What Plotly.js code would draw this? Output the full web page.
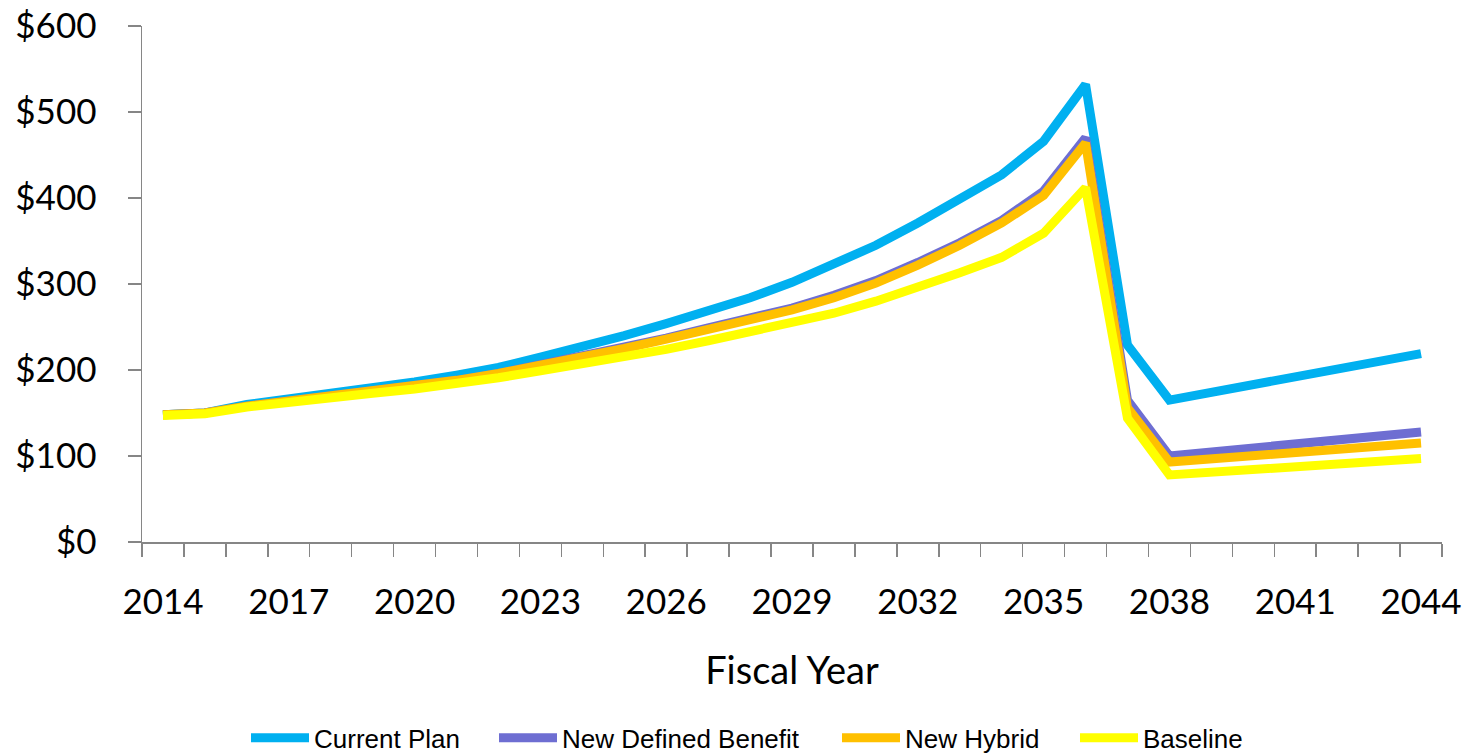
<!DOCTYPE html>
<html>
<head>
<meta charset="utf-8">
<script src="https://cdn.plot.ly/plotly-3.0.1.min.js"></script>
<style>html,body{margin:0;padding:0;background:#fff;}#chart{width:1472px;height:753px;}</style>
</head>
<body>
<div id="chart"></div>
<script>
// Fiscal years with data
const years = [2014,2015,2016,2017,2018,2019,2020,2021,2022,2023,2024,2025,2026,2027,2028,2029,2030,2031,2032,2033,2034,2035,2036,2037,2038,2044];
const currentPlan = [148,150,160,166,172,179,186,194,203,215,227,240,254,268,284,302,323,345,371,398,427,466,532,229,165,219];
const newDefinedBenefit = [148,150,158,164,169,175,181,188,196,206,216,226,237,249,260,272,287,304,325,348,374,408,470,165,100,128];
const newHybrid = [148,150,158,164,169,175,181,188,196,205,215,225,236,247,258,270,284,301,322,345,371,403,464,156,93,115];
const baseline = [147,149,157,163,168,173,178,184,191,199,207,215,224,234,244,255,266,280,296,313,331,359,412,144,78,97];
const tickYears = [2014,2017,2020,2023,2026,2029,2032,2035,2038,2041,2044];
const seriesNames = ["Current Plan","New Defined Benefit","New Hybrid","Baseline"];
const seriesColors = ["#00B0F0","#6E6ED2","#FFC000","#FFFF00"];
const legendIds = ["legend","legend2","legend3","legend4"];

const seriesData = [currentPlan, newDefinedBenefit, newHybrid, baseline];
const traces = seriesData.map((ys, i) => ({
  type: "scatter",
  mode: "lines",
  x: years,
  y: ys,
  name: seriesNames[i],
  legend: legendIds[i],
  line: {color: seriesColors[i], width: 9}
}));

const axisColor = "#868686";
const legendFont = {family: "Liberation Sans, Arial, sans-serif", size: 26, color: "#000"};
const legendLeft = [246, 494, 837, 1075];
function makeLegend(i) {
  return {
    orientation: "h",
    xref: "container",
    yref: "container",
    x: legendLeft[i] / 1472,
    xanchor: "left",
    y: 0.02,
    yanchor: "middle",
    itemwidth: 58,
    bgcolor: "rgba(0,0,0,0)",
    font: legendFont
  };
}

const layout = {
  width: 1472,
  height: 753,
  margin: {l: 142, r: 30, t: 26, b: 211},
  paper_bgcolor: "#ffffff",
  plot_bgcolor: "#ffffff",
  showlegend: true,
  font: {family: "Lato, sans-serif", color: "#000"},
  xaxis: {
    type: "linear",
    range: [2013.5, 2044.5],
    tickmode: "array",
    tickvals: tickYears,
    ticktext: tickYears.map(String),
    ticks: "",
    ticklabelstandoff: 28,
    tickfont: {family: "Lato, sans-serif", size: 35, color: "#000"},
    showgrid: false,
    zeroline: false,
    showline: true,
    linecolor: axisColor,
    linewidth: 1.5,
    minor: {tickmode: "linear", tick0: 2013.5, dtick: 1, ticks: "outside", ticklen: 13, tickcolor: axisColor, tickwidth: 1.5, showgrid: false},
    title: {text: "Fiscal Year", font: {family: "Lato, sans-serif", size: 38, color: "#000"}, standoff: 38}
  },
  yaxis: {
    range: [0, 600],
    tickmode: "linear",
    tick0: 0,
    dtick: 100,
    tickprefix: "$",
    ticks: "outside",
    ticklen: 13,
    tickcolor: axisColor,
    tickwidth: 1.5,
    ticklabelstandoff: 24,
    tickfont: {family: "Lato, sans-serif", size: 35, color: "#000"},
    showgrid: false,
    zeroline: false,
    showline: true,
    linecolor: axisColor,
    linewidth: 1.5
  },
  legend: makeLegend(0),
  legend2: makeLegend(1),
  legend3: makeLegend(2),
  legend4: makeLegend(3)
};

Plotly.newPlot("chart", traces, layout, {displayModeBar: false, staticPlot: true});
</script>
</body>
</html>
